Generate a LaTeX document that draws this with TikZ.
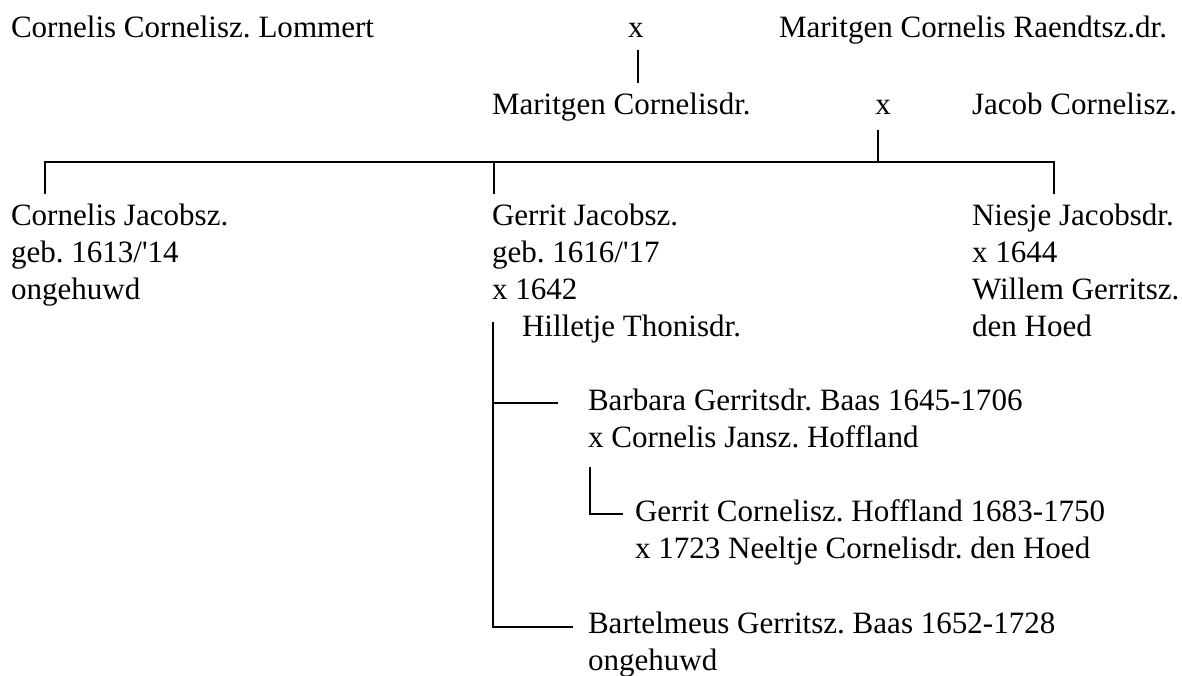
\documentclass[tikz,border=0pt]{standalone}
\usepackage{fontspec}
\setmainfont{Liberation Serif}
\usetikzlibrary{positioning}
\frenchspacing
\tikzset{
    font = \fontsize{12pt}{14.3pt}\selectfont,
    every node/.style = {
        inner sep = 0pt,
        outer sep = 0pt
    },
    person/.style = {
        anchor = base west,
        align = left
    },
    marriage/.style = {
        anchor = base
    },
    branch/.style = {
        line width = 0.75pt
    }
}

\begin{document}
\begin{tikzpicture}[x=0.3865pt, y=-0.3865pt]
    \useasboundingbox (0,0) rectangle (1182,675);
    % parents (base = last line)
    \node (lommert) at (11,37) [person]{Cornelis Cornelisz. Lommert};
    \node (x1) at (636,37) [marriage]{x};
    \node (raendts) at (779,37) [person]{Maritgen Cornelis Raendtsz.dr.};
    \node (maritgen) at (492,114) [person]{Maritgen Cornelisdr.};
    \node (x2) at (883,114) [marriage]{x};
    \node (jacob) at (972,114) [person]{Jacob Cornelisz.};
    % children
    \node (cornelis) at (11,299) [person]{Cornelis Jacobsz.\\geb. 1613/\textquotesingle14\\ongehuwd};
    \node (gerrit) at (492,299) [person]{Gerrit Jacobsz.\\geb. 1616/\textquotesingle17\\x 1642};
    \node (hilletje) at (522,336) [person]{Hilletje Thonisdr.};
    \node (niesje) at (972,336) [person]{Niesje Jacobsdr.\\x 1644\\Willem Gerritsz.\\den Hoed};
    % grandchildren
    \node (barbara) at (588,447) [person]{Barbara Gerritsdr. Baas 1645-1706\\x Cornelis Jansz. Hoffland};
    \node (hoffland) at (635,558) [person]{Gerrit Cornelisz. Hoffland 1683-1750\\x 1723 Neeltje Cornelisdr. den Hoed};
    \node (bartelmeus) at (588,670) [person]{Bartelmeus Gerritsz. Baas 1652-1728\\ongehuwd};
    % line ends
    \coordinate (x1-top) at (638,50);
    \coordinate (x1-bot) at (638,83);
    \coordinate (x2-top) at (878,130);
    \coordinate (bar) at (878,162);
    \coordinate (cornelis-in) at (45,194);
    \coordinate (gerrit-in) at (494,194);
    \coordinate (niesje-in) at (1054,194);
    \coordinate (gerrit-top) at (493,322);
    \coordinate (barbara-in) at (558,403);
    \coordinate (bartelmeus-in) at (573,627);
    \coordinate (barbara-top) at (590,467);
    \coordinate (hoffland-in) at (623,514);
    % lines
    \draw[branch] (x1-top) -- (x1-bot);
    \draw[branch] (x2-top) -- (bar);
    \draw[branch] (cornelis-in) |- (bar) -| (niesje-in);
    \draw[branch] (gerrit-in) -- (gerrit-in |- bar);
    \draw[branch] (gerrit-top) |- (bartelmeus-in);
    \draw[branch] (gerrit-top |- barbara-in) -- (barbara-in);
    \draw[branch] (barbara-top) |- (hoffland-in);
\end{tikzpicture}
\end{document}
